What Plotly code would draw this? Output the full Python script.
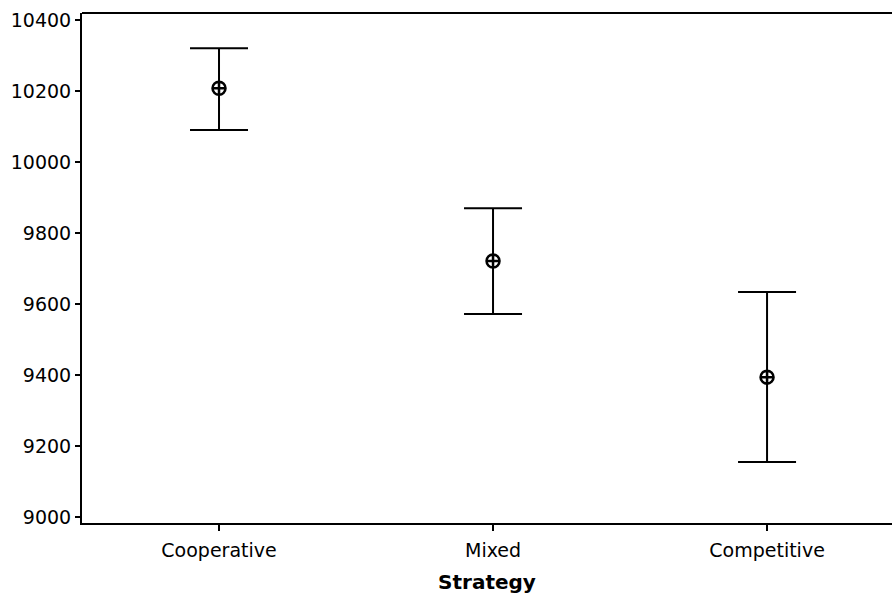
import plotly.graph_objects as go

categories = ["Cooperative", "Mixed", "Competitive"]
means = [10208, 9721, 9394]
upper = [10321, 9870, 9634]
lower = [10090, 9572, 9155]
y_ticks = [9000, 9200, 9400, 9600, 9800, 10000, 10200, 10400]
y_tick_labels = ["9000", "9200", "9400", "9600", "9800", "10000", "10200", "10400"]

x_pos = list(range(len(categories)))
err_plus = [u - m for u, m in zip(upper, means)]
err_minus = [m - l for m, l in zip(means, lower)]

fig = go.Figure()
fig.add_trace(go.Scatter(
    x=x_pos, y=means, mode="markers",
    marker=dict(symbol="circle-cross-open", size=13, color="black",
                line=dict(width=2.5, color="black")),
    error_y=dict(type="data", symmetric=False, array=err_plus, arrayminus=err_minus,
                 color="black", thickness=2, width=29),
    showlegend=False,
))

# top frame line (no right border in the reference)
fig.add_shape(type="line", xref="paper", yref="paper", x0=0, x1=1, y0=1, y1=1,
              line=dict(color="black", width=2))

fig.update_layout(
    width=892, height=596,
    margin=dict(l=82, r=0, t=13, b=73),
    paper_bgcolor="white", plot_bgcolor="white",
    font=dict(family="DejaVu Sans", size=19, color="black"),
    xaxis=dict(
        range=[-0.5, 2.456], tickvals=x_pos, ticktext=categories,
        showline=True, linecolor="black", linewidth=2,
        ticks="outside", ticklen=6, tickwidth=1.5, tickcolor="black",
        ticklabelstandoff=3,
        showgrid=False, zeroline=False,
        title=dict(text="<b>Strategy</b>", font=dict(size=20), standoff=15),
    ),
    yaxis=dict(
        range=[8983, 10420], tickvals=y_ticks, ticktext=y_tick_labels,
        showline=True, linecolor="black", linewidth=2,
        ticks="outside", ticklen=5, tickwidth=1.5, tickcolor="black",
        showgrid=False, zeroline=False,
    ),
)

fig.write_html("out.html")
